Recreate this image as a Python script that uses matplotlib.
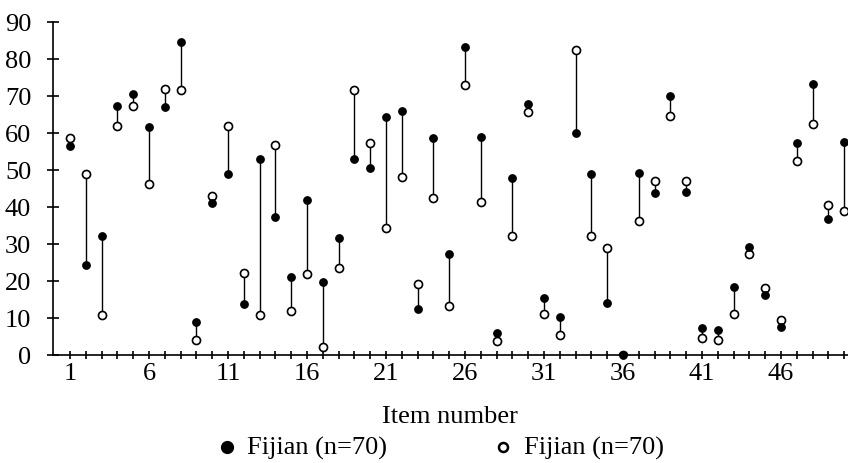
import numpy as np
import matplotlib
matplotlib.use('Agg')
import matplotlib.pyplot as plt
from matplotlib.lines import Line2D

items = np.arange(1, 51)

# filled circles
fijian_a = [56.5, 24.3, 32.0, 67.3, 70.5, 61.5, 67.0, 84.4, 9.0, 41.1,
            49.0, 13.9, 52.9, 37.3, 21.1, 41.8, 19.8, 31.7, 52.8, 50.6,
            64.3, 65.8, 12.4, 58.6, 27.2, 83.2, 58.9, 6.0, 47.8, 67.8,
            15.3, 10.3, 59.9, 48.9, 14.1, 0.0, 49.2, 43.8, 69.9, 44.1,
            7.3, 6.7, 18.3, 29.1, 16.3, 7.6, 57.3, 73.3, 36.7, 57.4]

# open circles
fijian_b = [58.5, 49.0, 10.8, 61.9, 67.2, 46.2, 71.7, 71.5, 4.0, 43.0,
            61.9, 22.1, 10.9, 56.7, 12.0, 21.9, 2.2, 23.4, 71.5, 57.2,
            34.3, 48.1, 19.1, 42.3, 13.3, 72.9, 41.3, 3.9, 32.0, 65.6,
            11.0, 5.5, 82.4, 32.0, 28.8, 0.0, 36.3, 47.0, 64.5, 47.1,
            4.5, 4.1, 11.0, 27.2, 18.2, 9.4, 52.4, 62.5, 40.6, 39.0]

label_a = 'Fijian (n=70)'
label_b = 'Fijian (n=70)'

plt.rcParams['font.family'] = ['Liberation Serif', 'DejaVu Serif']
plt.rcParams['font.size'] = 19

W, H = 848, 464
fig = plt.figure(figsize=(W / 100, H / 100), dpi=100)
ax = fig.add_axes([52.7 / W, 1 - 356 / H, (W - 52.7) / W, (356 - 22.7) / H])

a = np.array(fijian_a)
b = np.array(fijian_b)
ax.vlines(items, np.minimum(a, b), np.maximum(a, b), color='black', lw=1.0, zorder=1)
ax.plot(items, b, 'o', ms=5.8, mfc='white', mec='black', mew=1.2, ls='none',
        zorder=2, clip_on=True)
ax.plot(items, a, 'o', ms=5.3, mfc='black', mec='black', ls='none',
        zorder=3, clip_on=False)

ax.set_xlim(-0.1, 50.24)
ax.set_ylim(0, 90)
ax.set_yticks(np.arange(0, 91, 10))
ax.set_xticks(items)
ax.set_xticklabels([str(i) if (i - 1) % 5 == 0 else '' for i in items])

for s in ['top', 'right']:
    ax.spines[s].set_visible(False)
ax.spines['left'].set_linewidth(1.2)
ax.spines['bottom'].set_linewidth(1.2)
ax.tick_params(axis='y', direction='inout', length=9, width=1.2, pad=11)
ax.tick_params(axis='x', direction='inout', length=6, width=1.2, pad=2)

ax.set_xlabel('Item number', labelpad=15)

# legend drawn by hand at the bottom
ly = 1 - 448 / H
fig.add_artist(Line2D([227 / W], [ly], marker='o', ms=8.5, mfc='black', mec='black',
                      ls='none', transform=fig.transFigure))
fig.add_artist(Line2D([503 / W], [ly], marker='o', ms=6.5, mfc='white', mec='black',
                      mew=1.8, ls='none', transform=fig.transFigure))
fig.text(247 / W, ly, label_a, ha='left', va='center')
fig.text(524 / W, ly, label_b, ha='left', va='center')

fig.savefig('out.png', dpi=100)
